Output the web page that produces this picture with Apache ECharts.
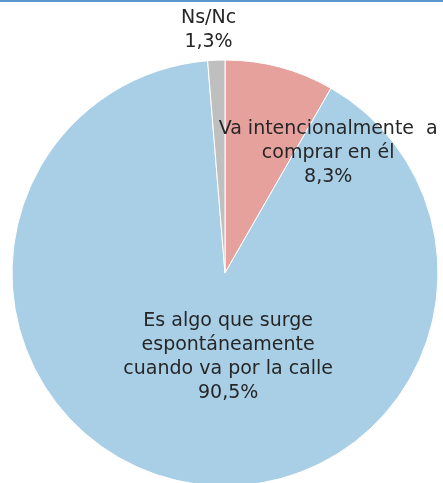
<!DOCTYPE html>
<html>
<head>
<meta charset="utf-8">
<script src="https://cdn.jsdelivr.net/npm/echarts@6/dist/echarts.min.js"></script>
<style>
  html, body { margin: 0; padding: 0; background: #fff; }
  #chart { width: 443px; height: 483px; }
</style>
</head>
<body>
<div id="chart"></div>
<script>
// datos del gráfico
var categorias = ['Va intencionalmente  a\ncomprar en él', 'Es algo que surge\nespontáneamente\ncuando va por la calle', 'Ns/Nc'];
var valores = [8.3, 90.5, 1.3];
var colores = ['#e6a19d', '#a9cfe6', '#bfbfbf'];
// desplazamiento de cada etiqueta respecto a su posición interior
var desplazamientos = [[75, -14], [27, -23], [-12, -134]];

var myChart = echarts.init(document.getElementById('chart'));

var datos = categorias.map(function (c, i) {
	return {
		name: c,
		value: valores[i],
		itemStyle: { color: colores[i] },
		label: { offset: desplazamientos[i] }
	};
});

var option = {
	animation: false,
	graphic: [{
		type: 'rect',
		shape: { x: 0, y: 0, width: 443, height: 2 },
		style: { fill: '#5f95cf' }
	}],
	series: [{
		type: 'pie',
		center: [225, 273],
		radius: 213,
		startAngle: 90,
		clockwise: true,
		itemStyle: { borderColor: '#fff', borderWidth: 1 },
		label: {
			position: 'inside',
			color: '#262626',
			fontFamily: 'DejaVu Sans',
			fontSize: 19,
			lineHeight: 24,
			formatter: function (p) {
				return p.name + '\n' + String(p.value).replace('.', ',') + '%';
			}
		},
		labelLine: { show: false },
		emphasis: { disabled: true },
		data: datos
	}]
};

myChart.setOption(option);
</script>
</body>
</html>
